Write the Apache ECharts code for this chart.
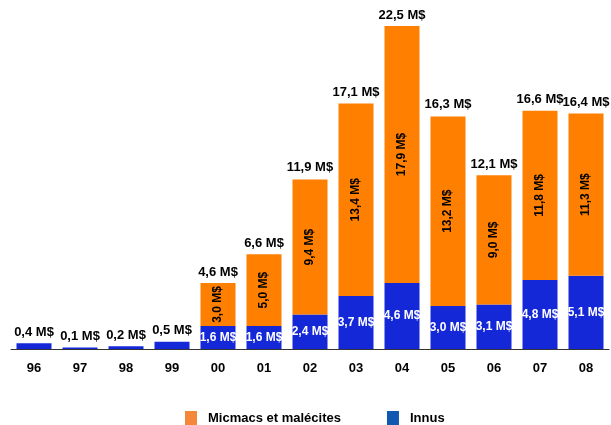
<!DOCTYPE html>
<html><head><meta charset="utf-8">
<script src="https://cdn.jsdelivr.net/npm/echarts@6/dist/echarts.min.js"></script>
<style>html,body{margin:0;padding:0;background:#fff}#c{width:611px;height:425px}</style>
</head><body><div id="c"></div>
<script>
const categories = ['96','97','98','99','00','01','02','03','04','05','06','07','08'];
const innus = [0.4,0.1,0.2,0.5,1.6,1.6,2.4,3.7,4.6,3.0,3.1,4.8,5.1];
const micmacs = [0,0,0,0,3.0,5.0,9.4,13.4,17.9,13.2,9.0,11.8,11.3];
const totals = [0.4,0.1,0.2,0.5,4.6,6.6,11.9,17.1,22.5,16.3,12.1,16.6,16.4];
const fmt = v => v.toFixed(1).replace('.', ',') + ' M$';
const FONT = '"Liberation Sans", Arial, sans-serif';
const chart = echarts.init(document.getElementById('c'));
chart.setOption({
  animation: false,
  textStyle: {fontFamily: FONT},
  grid: {left: 11, right: 2, top: 26, bottom: 76},
  legend: {
    left: 180, top: 406, itemGap: 46, itemWidth: 12, itemHeight: 15,
    textStyle: {fontFamily: FONT, fontWeight: 'bold', fontSize: 13, color: '#000', padding: [0,0,0,6]},
    data: [
      {name: 'Micmacs et malécites', icon: 'rect', itemStyle: {color: '#F5873A'}},
      {name: 'Innus', icon: 'rect', itemStyle: {color: '#1058B0'}}
    ]
  },
  xAxis: {
    type: 'category', data: categories,
    axisLine: {lineStyle: {color: '#333', width: 1}},
    axisTick: {length: 4, lineStyle: {color: '#333'}},
    axisLabel: {color: '#000', fontWeight: 'bold', fontSize: 13, fontFamily: FONT, margin: 13}
  },
  yAxis: {type: 'value', min: 0, max: 22.5, show: false, splitLine: {show: false}},
  series: [
    {
      name: 'Innus', type: 'bar', stack: 's', barWidth: 35, data: innus,
      itemStyle: {color: '#1428D8'},
      label: {
        show: true, position: 'inside', color: '#fff', fontWeight: 'bold', fontSize: 12, fontFamily: FONT,
        formatter: p => micmacs[p.dataIndex] > 0 ? fmt(p.value) : ''
      }
    },
    {
      name: 'Micmacs et malécites', type: 'bar', stack: 's', barWidth: 35, data: micmacs,
      itemStyle: {color: '#FF7F00'},
      label: {
        show: true, position: 'inside', rotate: 90, color: '#000', fontWeight: 'bold', fontSize: 12, fontFamily: FONT,
        formatter: p => p.value > 0 ? fmt(p.value) : ''
      }
    },
    {
      name: 'total', type: 'scatter', data: totals, symbolSize: 1, silent: true,
      itemStyle: {color: 'rgba(0,0,0,0)'},
      label: {
        show: true, position: 'top', distance: 4, color: '#000', opacity: 1, fontWeight: 'bold', fontSize: 13, fontFamily: FONT,
        formatter: p => fmt(p.value)
      }
    }
  ]
});
</script></body></html>
